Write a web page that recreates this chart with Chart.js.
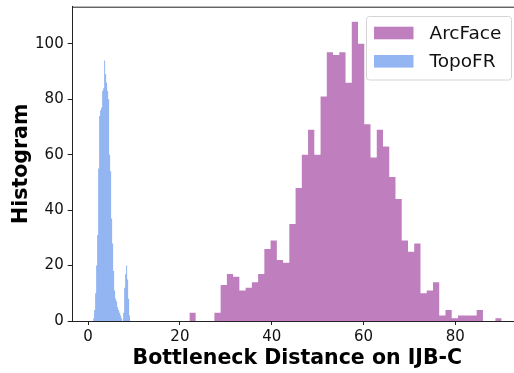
<!DOCTYPE html>
<html>
<head>
<meta charset="utf-8">
<script src="https://cdn.jsdelivr.net/npm/chart.js@4"></script>
<style>
  html, body { margin: 0; padding: 0; overflow: hidden; background: #fff; }
  #wrap { width: 540px; height: 373px; }
</style>
</head>
<body>
<div id="wrap"><canvas id="myChart" width="540" height="373"></canvas></div>
<script>
// histogram counts
var arcFaceLabel = 'ArcFace';
var arcFaceStart = 22.07;
var arcFaceBinWidth = 1.361;
var arcFaceCounts = [3, 0, 0, 0, 3, 13, 17, 16, 11, 12,
                     14, 17, 26, 29, 22, 21, 35, 48, 60, 69,
                     60, 81, 97, 96, 97, 86, 108, 100, 71, 59,
                     69, 63, 52, 44, 29, 25, 28, 10, 11, 14,
                     2, 4, 1, 2, 2, 2, 4, 0, 0, 1];

var topoLabel = 'TopoFR';
var topoStart = 1.09;
var topoBinWidth = 0.218;
var topoCounts = [1, 4, 10, 20, 31, 55, 74, 76, 77, 83,
                  84, 94, 89, 86, 83, 80, 60, 54, 37, 28,
                  18, 11, 8, 7, 5, 4, 3, 2, 1, 0,
                  3, 12, 17, 20, 15, 8, 2];

var xTicks = [0, 20, 40, 60, 80];
var yTicks = [0, 20, 40, 60, 80, 100];
var xTitle = 'Bottleneck Distance on IJB-C';
var yTitle = 'Histogram';

function histPoints(start, width, counts) {
  var pts = counts.map(function(c, i) { return {x: start + i * width, y: c}; });
  pts.push({x: start + counts.length * width, y: 0});
  return pts;
}

var purple = '#bf7fbf';
var blue = '#93b5f2';

var framePlugin = {
  id: 'frame',
  afterDraw: function(chart) {
    var ctx = chart.ctx, a = chart.chartArea;
    ctx.save();
    ctx.strokeStyle = '#222';
    ctx.lineWidth = 1;
    ctx.beginPath();
    ctx.moveTo(a.left, a.top + 0.5);
    ctx.lineTo(a.right, a.top + 0.5);
    ctx.stroke();

    // legend box in the upper right corner
    var bx = 366.5, by = 16.5, bw = 145, bh = 63.5;
    ctx.fillStyle = 'rgba(255,255,255,0.8)';
    ctx.strokeStyle = '#d4d4d4';
    ctx.beginPath();
    ctx.roundRect(bx, by, bw, bh, 3);
    ctx.fill();
    ctx.stroke();
    ctx.font = '18.5px "DejaVu Sans"';
    ctx.textBaseline = 'middle';
    chart.data.datasets.forEach(function(ds, i) {
      var cy = 33 + i * 28.3;
      ctx.fillStyle = ds.backgroundColor;
      ctx.fillRect(374, cy - 6.3, 39.5, 12.6);
      ctx.fillStyle = '#111';
      ctx.fillText(ds.label, 429.5, cy + 1);
    });
    ctx.restore();
  }
};

new Chart(document.getElementById('myChart').getContext('2d'), {
  type: 'line',
  data: {
    datasets: [{
      label: arcFaceLabel,
      data: histPoints(arcFaceStart, arcFaceBinWidth, arcFaceCounts),
      backgroundColor: purple,
      borderColor: 'rgba(0,0,0,0)',
      borderWidth: 0,
      pointRadius: 0,
      stepped: 'before',
      fill: 'origin'
    }, {
      label: topoLabel,
      data: histPoints(topoStart, topoBinWidth, topoCounts),
      backgroundColor: blue,
      borderColor: 'rgba(0,0,0,0)',
      borderWidth: 0,
      pointRadius: 0,
      stepped: 'before',
      fill: 'origin'
    }]
  },
  options: {
    responsive: false,
    animation: false,
    layout: { padding: { top: 6.7, right: 18, left: 0, bottom: 0 } },
    plugins: { legend: { display: false }, tooltip: { enabled: false } },
    scales: {
      x: {
        type: 'linear',
        min: -3.36,
        max: 94.55,
        afterBuildTicks: function(axis) { axis.ticks = xTicks.map(function(v) { return {value: v}; }); },
        afterFit: function(axis) { axis.height = 52; axis.paddingLeft = 0; axis.paddingRight = 0; },
        grid: { drawOnChartArea: false, tickLength: 4, tickColor: '#222' },
        border: { color: '#222', width: 1 },
        ticks: { color: '#111', font: { family: 'DejaVu Sans', size: 15 }, padding: 3, maxRotation: 0 },
        title: { display: true, text: xTitle, color: '#000', font: { family: 'DejaVu Sans', size: 20.5, weight: 'bold' }, padding: { top: 0, bottom: 2 } }
      },
      y: {
        min: 0,
        max: 113.4,
        afterBuildTicks: function(axis) { axis.ticks = yTicks.map(function(v) { return {value: v}; }); },
        afterFit: function(axis) { axis.width = 72.7; axis.paddingTop = 0; axis.paddingBottom = 0; },
        grid: { drawOnChartArea: false, tickLength: 5, tickColor: '#222' },
        border: { color: '#222', width: 1 },
        ticks: { color: '#111', font: { family: 'DejaVu Sans', size: 15 }, padding: 4 },
        title: { display: true, text: yTitle, color: '#000', font: { family: 'DejaVu Sans', size: 20.5, weight: 'bold' }, padding: { top: 9, bottom: 0 } }
      }
    }
  },
  plugins: [framePlugin]
});
</script>
</body>
</html>
